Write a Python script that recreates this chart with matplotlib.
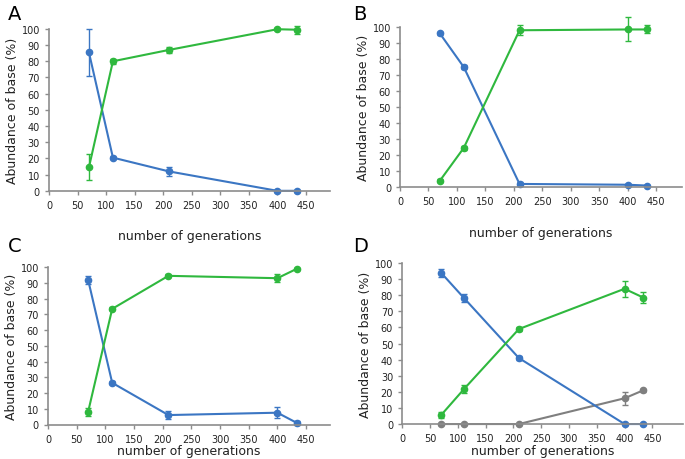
import matplotlib
matplotlib.use("Agg")
import matplotlib.pyplot as plt
import numpy as np

gens = [70, 112, 210, 400, 434]

# panel A
a_blue = [85.5, 20.5, 12, 0, 0]
a_blue_err = [14.5, 1, 3, 0.5, 0.5]
a_green = [14.5, 80, 87, 99.8, 99.5]
a_green_err = [8, 1.5, 2, 0.5, 2.5]

# panel B
b_blue = [96, 75, 2, 1.5, 1]
b_blue_err = [1, 1, 1, 0.5, 0.5]
b_green = [4, 24.5, 98, 98.5, 98.5]
b_green_err = [1, 1, 3, 7.5, 2.5]

# panel C
c_blue = [92, 26.5, 6, 7.5, 1]
c_blue_err = [2.5, 1, 2.5, 3.5, 1]
c_green = [8, 73.5, 94.5, 93, 99]
c_green_err = [2.5, 1, 1, 2.5, 0.5]

# panel D
d_blue = [94, 78, 41, 0, 0]
d_blue_err = [2.5, 2.5, 1, 0.5, 0.5]
d_green = [5.5, 22, 59, 84, 78.5]
d_green_err = [2, 2.5, 1, 5, 3.5]
d_gray = [0, 0, 0, 16, 21]
d_gray_err = [0.3, 0.3, 0.3, 4, 1]

BLUE = '#3b76c3'
GREEN = '#2fb83e'
GRAY = '#7f7f7f'
AXC = '#8c8c8c'

fig = plt.figure(figsize=(6.85, 4.6), dpi=100)

panels = [
    ('A', [0.0715, 0.583, 0.41, 0.352], 492, 14,
     [(a_blue, a_blue_err, BLUE), (a_green, a_green_err, GREEN)], (0.012, 0.99)),
    ('B', [0.584, 0.591, 0.412, 0.348], 496, 14,
     [(b_blue, b_blue_err, BLUE), (b_green, b_green_err, GREEN)], (0.515, 0.99)),
    ('C', [0.070, 0.075, 0.412, 0.342], 492, 0,
     [(c_blue, c_blue_err, BLUE), (c_green, c_green_err, GREEN)], (0.012, 0.485)),
    ('D', [0.587, 0.076, 0.41, 0.35], 505, 1,
     [(d_gray, d_gray_err, GRAY), (d_blue, d_blue_err, BLUE), (d_green, d_green_err, GREEN)], (0.515, 0.485)),
]

for name, rect, xmax, pad, series, lab in panels:
    ax = fig.add_axes(rect)
    for vals, err, col in series:
        ax.errorbar(gens, vals, yerr=err, color=col, lw=1.5, marker='o', ms=4.5,
                    capsize=2.5, elinewidth=1, capthick=1, clip_on=False)
    ax.set_xlim(0, xmax)
    ax.set_ylim(0, 100)
    ax.set_xticks(np.arange(0, 451, 50))
    ax.set_yticks(np.arange(0, 101, 10))
    for s in ['top', 'right']:
        ax.spines[s].set_visible(False)
    for s in ['left', 'bottom']:
        ax.spines[s].set_color(AXC)
        ax.spines[s].set_linewidth(1.2)
    ax.tick_params(colors=AXC, labelcolor='#222222', labelsize=7, length=3, width=1)
    ax.set_xlabel('number of generations', fontsize=9, labelpad=pad, color='#222222')
    ax.set_ylabel('Abundance of base (%)', fontsize=9, labelpad=2, color='#222222')
    fig.text(lab[0], lab[1], name, fontsize=14, va='top', ha='left')

fig.savefig('out.png', dpi=100)
